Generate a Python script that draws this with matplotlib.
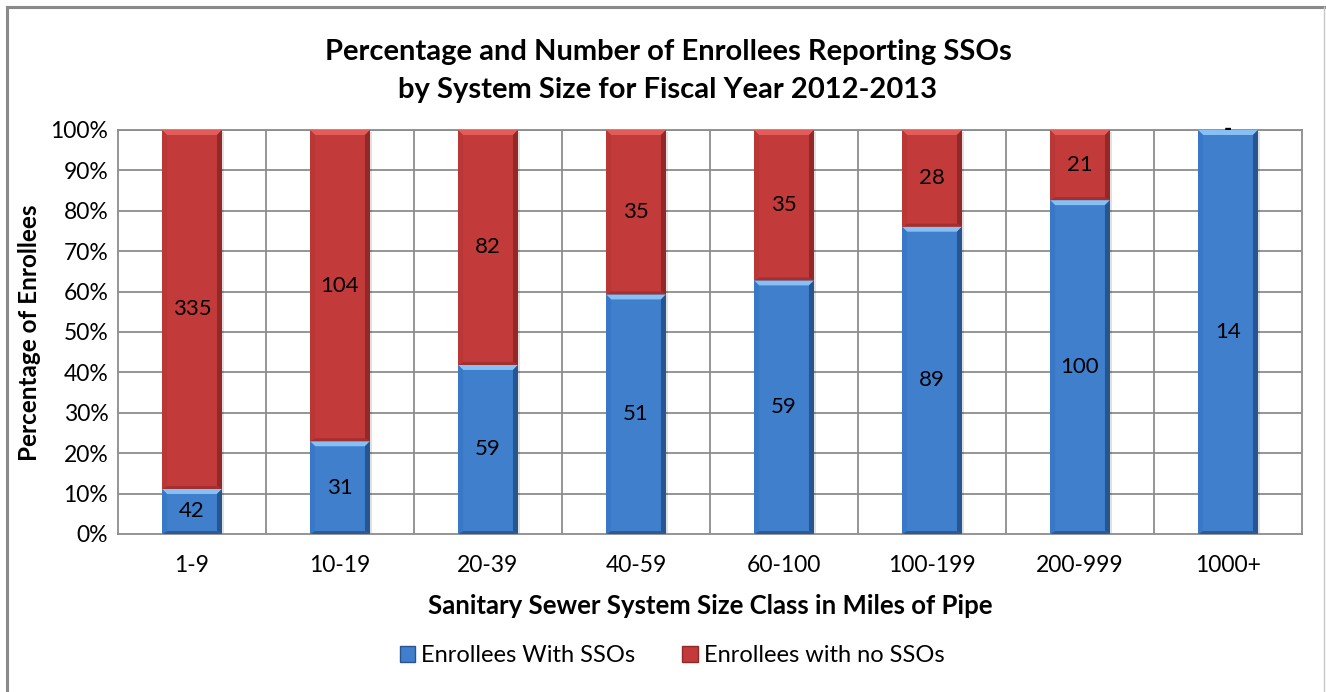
import matplotlib
matplotlib.use("Agg")
import matplotlib.pyplot as plt
from matplotlib.patches import Polygon, Rectangle, Patch
import numpy as np

plt.rcParams['font.family'] = ['Lato', 'DejaVu Sans']

categories = ["1-9", "10-19", "20-39", "40-59", "60-100", "100-199", "200-999", "1000+"]
with_sso = [42, 31, 59, 51, 59, 89, 100, 14]
without_sso = [335, 104, 82, 35, 35, 28, 21, 0]
y_ticks = [0, 10, 20, 30, 40, 50, 60, 70, 80, 90, 100]

title = "Percentage and Number of Enrollees Reporting SSOs\nby System Size for Fiscal Year 2012-2013"
x_label = "Sanitary Sewer System Size Class in Miles of Pipe"
y_label = "Percentage of Enrollees"
legend_labels = ["Enrollees With SSOs", "Enrollees with no SSOs"]

W, H, DPI = 1326, 692, 100
fig = plt.figure(figsize=(W / DPI, H / DPI), dpi=DPI)
fig.patch.set_facecolor("white")

# chart border
fig.add_artist(plt.Line2D([7 / W, 7 / W], [0, 1 - 7 / H], color="#8a8a8a", lw=2.2, transform=fig.transFigure))
fig.add_artist(plt.Line2D([7 / W, 1324 / W], [1 - 7 / H, 1 - 7 / H], color="#8a8a8a", lw=2.2, transform=fig.transFigure))
fig.add_artist(plt.Line2D([1324 / W, 1324 / W], [0, 1 - 7 / H], color="#c8c8c8", lw=1.0, transform=fig.transFigure))

left, right, top, bottom = 118, 1302, 130, 534
ax = fig.add_axes([left / W, 1 - bottom / H, (right - left) / W, (bottom - top) / H])

x = np.arange(len(categories))
with_arr = np.array(with_sso, dtype=float)
without_arr = np.array(without_sso, dtype=float)
totals = with_arr + without_arr
pct_with = with_arr / totals * 100
pct_without = without_arr / totals * 100

ax.set_xlim(-0.5, len(categories) - 0.5)
ax.set_ylim(0, 100)

# grid
for yv in y_ticks[1:]:
    ax.axhline(yv, color="#8c8c8c", lw=1.3, zorder=0)
for xv in np.arange(0.5, len(categories) - 0.5, 1):
    ax.axvline(xv, color="#8c8c8c", lw=1.3, zorder=0)
for s in ax.spines.values():
    s.set_color("#8c8c8c")
    s.set_linewidth(1.3)

bar_w = 0.405
blue = dict(face="#3f7fcc", top="#86c0f5", left="#3878c6", right="#27558f", bottom="#2a5a98")
red = dict(face="#c23b3a", top="#e25c5a", left="#ba3736", right="#922828", bottom="#a23030")

px_x = (right - left) / len(categories)   # pixels per x unit
px_y = (bottom - top) / 100.0             # pixels per y unit
bx = 5 / px_x
by = 5 / px_y


def bevel_bar(xc, y0, h, col):
    if h <= 0:
        return
    x0, x1 = xc - bar_w / 2, xc + bar_w / 2
    y1 = y0 + h
    # soft shadow
    ax.add_patch(Rectangle((x0 + 2 / px_x, y0 - 2 / px_y), bar_w, h, facecolor="#000000", alpha=0.12, lw=0, zorder=1))
    ax.add_patch(Rectangle((x0, y0), bar_w, h, facecolor=col["face"], lw=0, zorder=2))
    dy = min(by, h / 2)
    dyb = min(3 / px_y, h / 2)
    dx = bx
    polys = [
        ([(x0, y1), (x1, y1), (x1 - dx, y1 - dy), (x0 + dx, y1 - dy)], col["top"]),
        ([(x0, y0), (x1, y0), (x1 - dx, y0 + dyb), (x0 + dx, y0 + dyb)], col["bottom"]),
        ([(x0, y0), (x0, y1), (x0 + dx, y1 - dy), (x0 + dx, y0 + dyb)], col["left"]),
        ([(x1, y0), (x1, y1), (x1 - dx, y1 - dy), (x1 - dx, y0 + dyb)], col["right"]),
    ]
    for pts, c in polys:
        ax.add_patch(Polygon(pts, closed=True, facecolor=c, lw=0, zorder=3))


bars_with = ax.bar(x, pct_with, width=bar_w, color="none", lw=0)
bars_without = ax.bar(x, pct_without, bottom=pct_with, width=bar_w, color="none", lw=0)
for b in bars_with:
    bevel_bar(b.get_x() + b.get_width() / 2, b.get_y(), b.get_height(), blue)
for b in bars_without:
    bevel_bar(b.get_x() + b.get_width() / 2, b.get_y(), b.get_height(), red)

# data labels
for i in range(len(categories)):
    ax.text(x[i], pct_with[i] / 2, f"{with_sso[i]:d}", ha="center", va="center", fontsize=16, zorder=5)
    lab = f"{without_sso[i]:d}" if without_sso[i] > 0 else "-"
    yy = pct_with[i] + pct_without[i] / 2
    ax.text(x[i], yy, lab, ha="center", va="center", fontsize=16, zorder=5,
            fontweight="bold" if without_sso[i] == 0 else "normal")

ax.set_xticks(x)
ax.set_xticklabels(categories, fontsize=16.5)
ax.set_yticks(y_ticks)
ax.set_yticklabels([f"{v}%" for v in y_ticks], fontsize=16.5)
ax.tick_params(length=0, pad=7)
ax.tick_params(axis="x", pad=15)

ax.set_xlabel(x_label, fontsize=18.5, fontweight="bold", labelpad=13)
fig.text(30 / W, 1 - 333 / H, y_label, rotation=90, ha="center", va="center", fontsize=17.5, fontweight="bold")
fig.text(668 / W, 1 - 71 / H, title, ha="center", va="center", fontsize=21, fontweight="bold", linespacing=1.55)

handles = [Patch(facecolor=blue["face"], edgecolor=blue["right"]), Patch(facecolor=red["face"], edgecolor=red["right"])]
fig.legend(handles, legend_labels, loc="center", bbox_to_anchor=(672 / W, 1 - 656 / H), ncol=2, frameon=False,
           fontsize=17, handlelength=0.65, handleheight=0.65, handletextpad=0.25, columnspacing=2.0)

fig.savefig("out.png", dpi=DPI)
